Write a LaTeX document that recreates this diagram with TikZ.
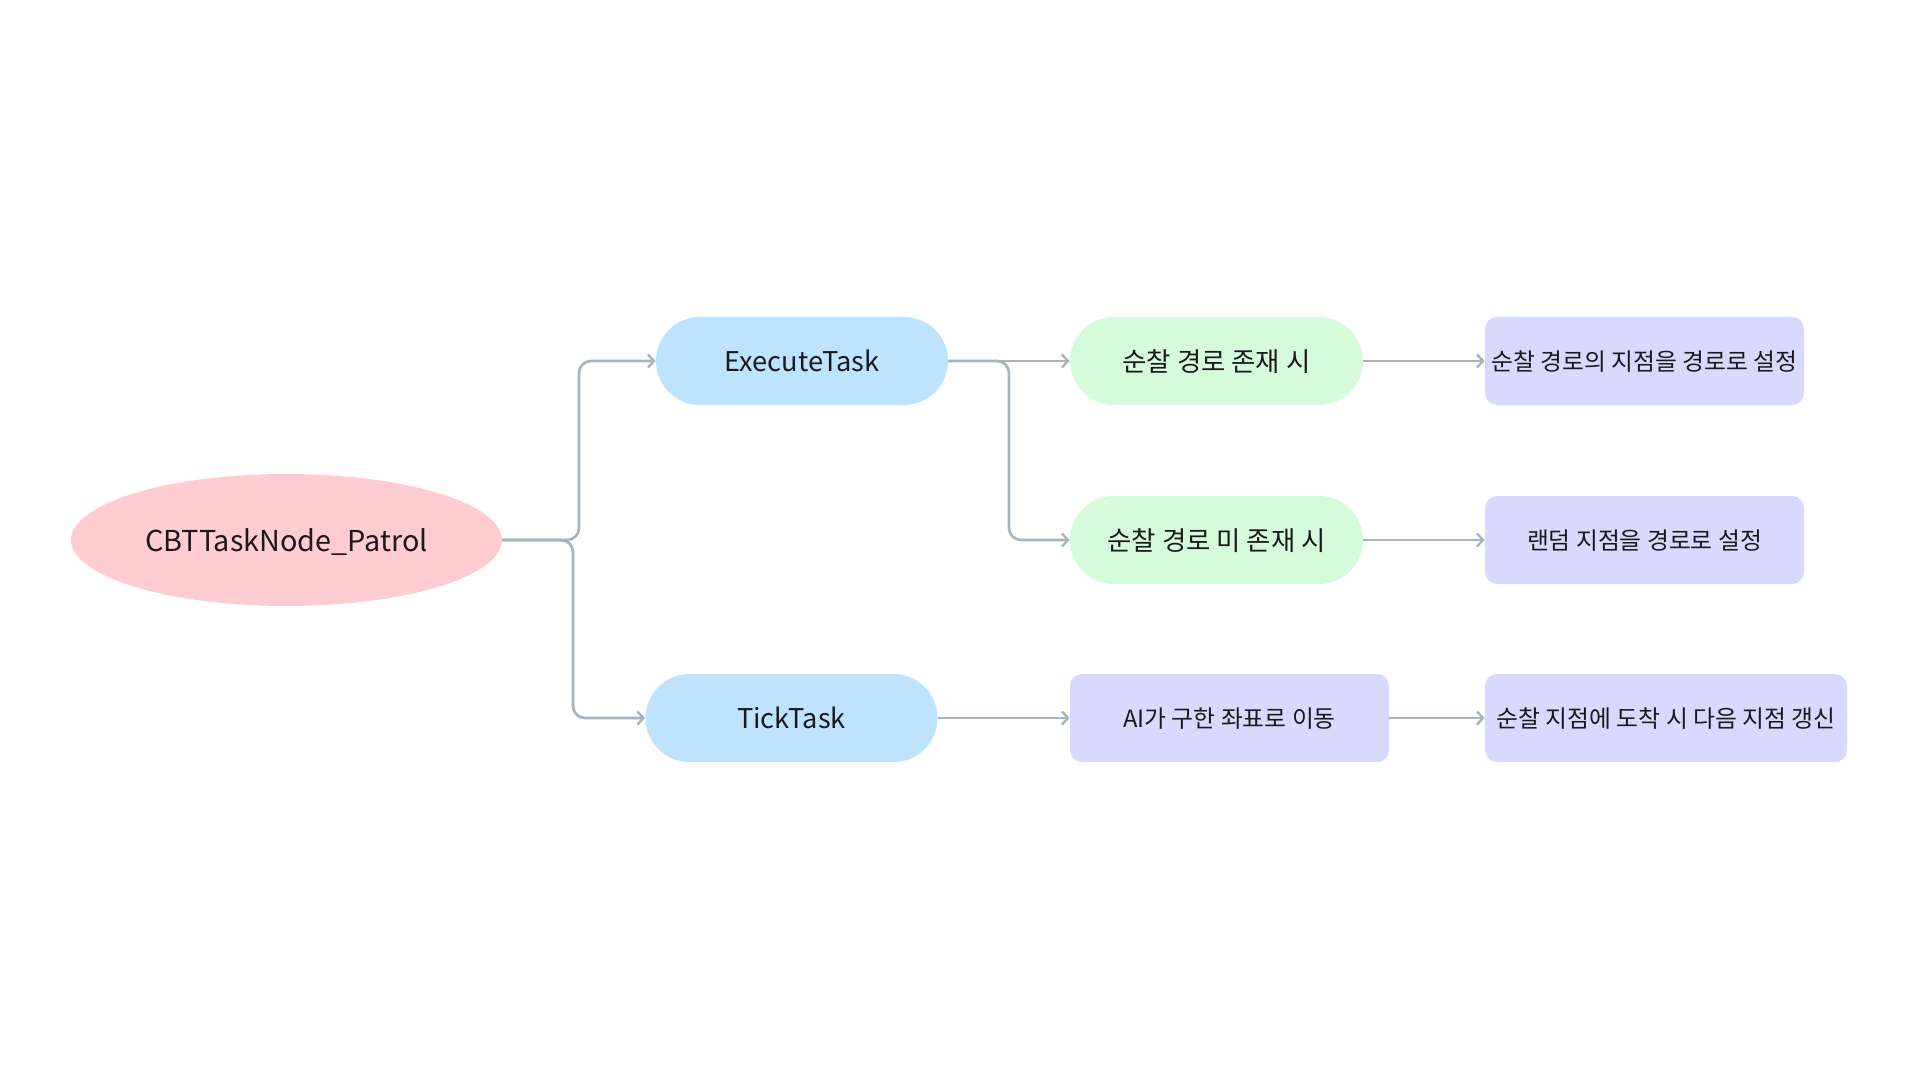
\documentclass[tikz,border=0pt]{standalone}
\usepackage{fontspec}
\setmainfont{Noto Sans CJK KR}
\usetikzlibrary{arrows.meta,shapes.geometric}

\definecolor{rootfill}{HTML}{FFCCD2}
\definecolor{taskfill}{HTML}{BEE3FE}
\definecolor{condfill}{HTML}{D6FBDA}
\definecolor{actfill}{HTML}{D7D9FD}
\definecolor{linkgray}{HTML}{A9B4BD}
\definecolor{inkcol}{HTML}{1A1A1A}

\tikzset{
  every node/.append style={text depth=0pt},
  rootnode/.style={ellipse, fill=rootfill, minimum width=215.5pt, minimum height=66pt,
    inner sep=0pt, text=inkcol, font=\fontsize{14.4}{16}\selectfont},
  tasknode/.style={rectangle, rounded corners=22pt, fill=taskfill, minimum width=146pt,
    minimum height=44pt, inner sep=0pt, text=inkcol, font=\fontsize{13.6}{15}\selectfont},
  condnode/.style={rectangle, rounded corners=22pt, fill=condfill, minimum width=146.5pt,
    minimum height=44pt, inner sep=0pt, text=inkcol, font=\fontsize{13.2}{15}\selectfont},
  actnode/.style={rectangle, rounded corners=6pt, fill=actfill, minimum width=159.5pt,
    minimum height=44pt, inner sep=0pt, text=inkcol, font=\fontsize{11.9}{13}\selectfont},
  link/.style={draw=linkgray, line width=1.35pt, rounded corners=6pt,
    -{Straight Barb[length=3pt,width=6.5pt,line width=1.2pt]}}
}

\begin{document}
\begin{tikzpicture}[x=0.5pt, y=-0.5pt]
  \useasboundingbox[fill=white] (0,0) rectangle (1920,1080);

  % nodes
  \node[rootnode] (root) at (286.5,540) {CBTTaskNode\_Patrol};
  \node[tasknode] (exec) at (802,361) {ExecuteTask};
  \node[tasknode] (tick) at (791.5,718) {TickTask};
  \node[condnode] (exist) at (1216.5,361) {순찰 경로 존재 시};
  \node[condnode] (noexist) at (1216.5,540) {순찰 경로 미 존재 시};
  \node[actnode] (setpath) at (1644.5,361) {순찰 경로의 지점을 경로로 설정};
  \node[actnode] (setrand) at (1644.5,540) {랜덤 지점을 경로로 설정};
  \node[actnode] (move) at (1229.5,718) {AI가 구한 좌표로 이동};
  \node[actnode, minimum width=181pt] (update) at (1666,718) {순찰 지점에 도착 시 다음 지점 갱신};

  % connectors
  \draw[link] (root.east) -- (579,540) |- (exec.west);
  \draw[link] (root.east) -- (573,540) |- (tick.west);
  \draw[link] (exec.east) -- (exist.west);
  \draw[link] (exec.east) -- (1009,361) |- (noexist.west);
  \draw[link] (exist.east) -- (setpath.west);
  \draw[link] (noexist.east) -- (setrand.west);
  \draw[link] (tick.east) -- (move.west);
  \draw[link] (move.east) -- (update.west);
\end{tikzpicture}
\end{document}
